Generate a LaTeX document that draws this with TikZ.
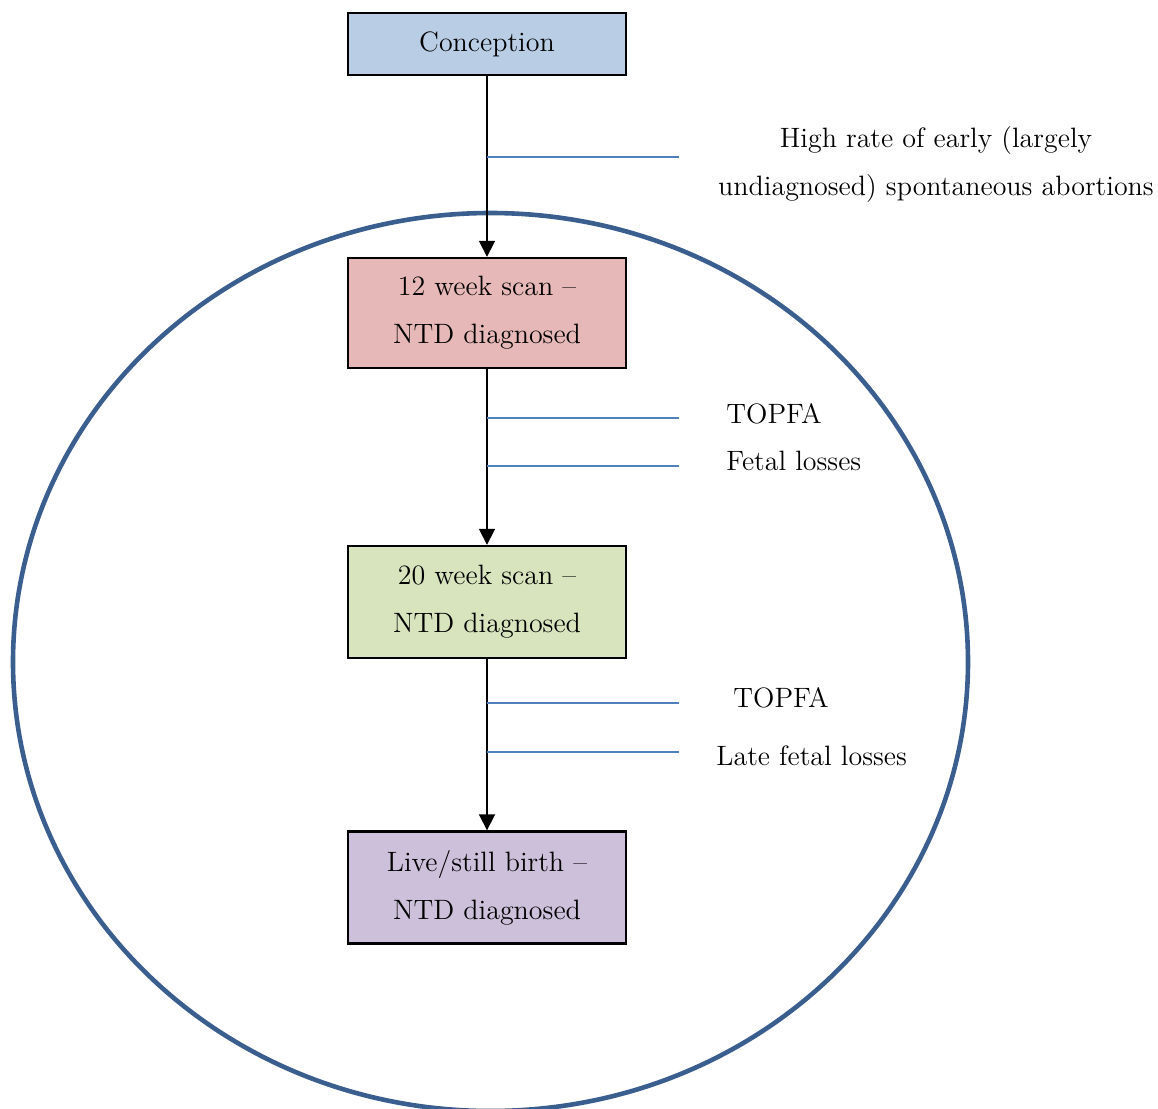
\documentclass[tikz,border=0pt]{standalone}
\usepackage{tikz}
\usetikzlibrary{arrows.meta,calc}
\definecolor{boxblue}{HTML}{B9CDE5}
\definecolor{boxred}{HTML}{E6B8B7}
\definecolor{boxgreen}{HTML}{D7E4BD}
\definecolor{boxpurple}{HTML}{CCC0DA}
\definecolor{ringblue}{HTML}{3A5F8F}
\definecolor{branchblue}{HTML}{4F81BD}
\tikzset{
	stage/.style={draw=black, line width=1.2pt, minimum width=139pt, align=center, inner sep=0pt, font=\fontsize{14}{24}\selectfont},
	flow/.style={draw=black, line width=0.9pt, -{Triangle[length=8pt,width=8pt]}},
	branch/.style={draw=branchblue, line width=0.8pt},
	outcome/.style={font=\fontsize{14}{24}\selectfont, inner sep=0pt}
}
\begin{document}
\begin{tikzpicture}[x=0.5pt, y=-0.5pt]
	%%%%% START %%%%%
	\useasboundingbox (0, 0) rectangle (1158, 1109);
	
	\draw[ringblue, line width=2.3pt] (490.5, 662) ellipse (477.5 and 449);
	
	\node[stage, fill=boxblue, minimum height=31pt] (concept) at (487, 44) {Conception};
	\node[stage, fill=boxred, minimum height=55pt] (scan12) at (487, 313) {12 week scan --\\NTD diagnosed};
	\node[stage, fill=boxgreen, minimum height=56pt] (scan20) at (487, 602) {20 week scan --\\NTD diagnosed};
	\node[stage, fill=boxpurple, minimum height=56pt] (birth) at (487, 887.5) {Live/still birth --\\NTD diagnosed};
	
	\draw[flow] (concept.south) -- (scan12.north);
	\draw[flow] (scan12.south) -- (scan20.north);
	\draw[flow] (scan20.south) -- (birth.north);
	
	% losses along the way
	\coordinate (b1) at (concept.south |- 0, 157);
	\coordinate (b2) at (scan12.south |- 0, 418);
	\coordinate (b3) at (scan12.south |- 0, 466);
	\coordinate (b4) at (scan20.south |- 0, 703);
	\coordinate (b5) at (scan20.south |- 0, 752);
	\foreach \b in {b1, b2, b3, b4, b5}
		\draw[branch] (\b) -- ++(192, 0);
	
	\node[outcome, align=center] (early) at (936, 165) {High rate of early (largely\\undiagnosed) spontaneous abortions};
	\node[outcome, anchor=west] (topfa1) at (726, 414) {TOPFA};
	\node[outcome, anchor=west] (fetal) at (726, 461) {Fetal losses};
	\node[outcome, anchor=west] (topfa2) at (733, 698) {TOPFA};
	\node[outcome, anchor=west] (late) at (716, 756) {Late fetal losses};
	%%%%% END %%%%%
\end{tikzpicture}
\end{document}
